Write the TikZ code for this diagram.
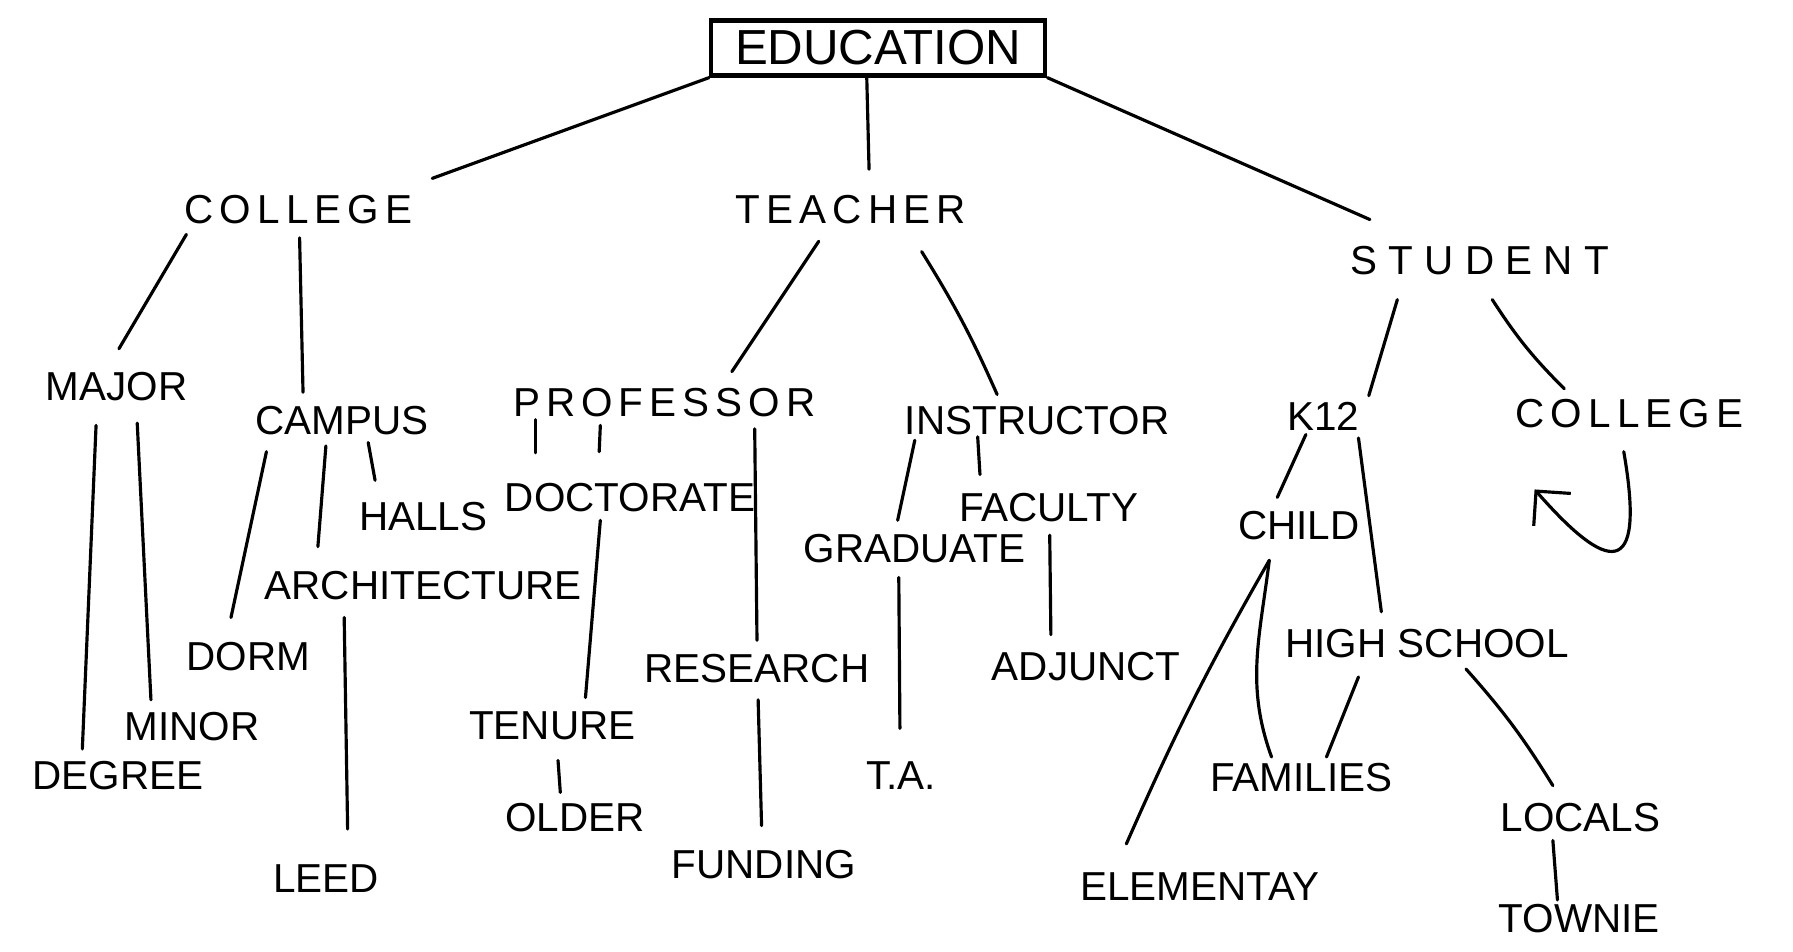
\documentclass[tikz,border=0pt]{standalone}
\usepackage{fontspec}
\setmainfont{Liberation Sans}
\newfontfamily\spacedfont[LetterSpace=15]{Liberation Sans}
\newfontfamily\widefont[LetterSpace=28]{Liberation Sans}
\usetikzlibrary{arrows.meta}

\tikzset{
  word/.style={inner sep=0, font=\fontsize{11.5}{12}\selectfont},
  spaced word/.style={word, font=\spacedfont\fontsize{11.5}{12}\selectfont},
  wide word/.style={word, font=\widefont\fontsize{11.5}{12}\selectfont},
  root/.style={draw, line width=1.2pt, inner sep=0,
               minimum width=3.34cm, minimum height=0.55cm,
               font=\fontsize{14}{16}\selectfont},
  link/.style={line width=0.9pt, line cap=round},
  back arrow/.style={link, -{Straight Barb[length=7pt,width=14pt]}},
}

\begin{document}
\begin{tikzpicture}[x=0.011435cm, y=-0.011435cm]
  % canvas in px of the scan, y grows downwards
  \useasboundingbox (0,0) rectangle (1568,832);

  % --- top ---
  \node[root] (edu) at (768,42) {EDUCATION};

  % --- level 1 ---
  \node[spaced word] (college) at (261,183) {COLLEGE};
  \node[spaced word] (teacher) at (744,183) {TEACHER};
  \node[wide word]   (student) at (1294,228) {STUDENT};

  % --- level 2 ---
  \node[word]        (major)    at (102,338)  {MAJOR};
  \node[word]        (campus)   at (299,368)  {CAMPUS};
  \node[spaced word] (prof)     at (581,352)  {PROFESSOR};
  \node[word]        (instr)    at (907,368)  {INSTRUCTOR};
  \node[word]        (k12)      at (1157,364) {K12};
  \node[spaced word] (college2) at (1425,362) {COLLEGE};

  % --- level 3 ---
  \node[word] (halls)    at (370,452)  {HALLS};
  \node[word] (doct)     at (551,435)  {DOCTORATE};
  \node[word] (faculty)  at (917,444)  {FACULTY};
  \node[word] (grad)     at (800,480)  {GRADUATE};
  \node[word] (child)    at (1136,460) {CHILD};
  \node[word] (arch)     at (370,512)  {ARCHITECTURE};
  \node[word] (dorm)     at (217,574)  {DORM};
  \node[word] (research) at (662,585)  {RESEARCH};
  \node[word] (adjunct)  at (950,583)  {ADJUNCT};
  \node[word] (high)     at (1248,563) {HIGH SCHOOL};

  % --- bottom rows ---
  \node[word] (minor)    at (168,635)  {MINOR};
  \node[word] (degree)   at (103,678)  {DEGREE};
  \node[word] (tenure)   at (483,635)  {TENURE};
  \node[word] (ta)       at (788,678)  {T.A.};
  \node[word] (families) at (1138,680) {FAMILIES};
  \node[word] (older)    at (503,715)  {OLDER};
  \node[word] (locals)   at (1382,715) {LOCALS};
  \node[word] (leed)     at (285,768)  {LEED};
  \node[word] (funding)  at (668,756)  {FUNDING};
  \node[word] (elem)     at (1049,775) {ELEMENTAY};
  \node[word] (townie)   at (1381,803) {TOWNIE};

  % --- links from the root ---
  \draw[link] (edu.south west) -- ([shift={(117,-27)}]college.center);
  \draw[link] ([shift={(-10,0)}]edu.south) -- ([shift={(16,-35)}]teacher.center);
  \draw[link] (edu.south east) -- ([shift={(-96,-36)}]student.center);

  % --- college branch ---
  \draw[link] ([shift={(-98,22)}]college.center) -- ([shift={(2,-33)}]major.center);
  \draw[link] ([shift={(1,25)}]college.center) -- ([shift={(-34,-25)}]campus.center);
  \draw[link] ([shift={(-18,34)}]major.center) -- ([shift={(-31,-23)}]degree.center);
  \draw[link] ([shift={(18,32)}]major.center) -- ([shift={(-36,-23)}]minor.center);
  \draw[link] ([shift={(-66,27)}]campus.center) -- ([shift={(-15,-34)}]dorm.center);
  \draw[link] ([shift={(-14,22)}]campus.center) -- ([shift={(-92,-34)}]arch.center);
  \draw[link] ([shift={(23,19)}]campus.center) -- ([shift={(-42,-32)}]halls.center);
  \draw[link] ([shift={(-69,28)}]arch.center) -- ([shift={(19,-43)}]leed.center);

  % --- teacher branch ---
  \draw[link] ([shift={(-28,28)}]teacher.center) -- ([shift={(59,-27)}]prof.center);
  \draw[link] ([shift={(62,37)}]teacher.center) to[bend left=4] ([shift={(-35,-23)}]instr.center);
  \draw[link] ([shift={(-113,15)}]prof.center) -- ([shift={(-83,-39)}]doct.center);
  \draw[link] ([shift={(-56,20)}]prof.center) -- ([shift={(-27,-40)}]doct.center);
  \draw[link] ([shift={(79,23)}]prof.center) -- ([shift={(0,-25)}]research.center);
  \draw[link] ([shift={(-26,20)}]doct.center) -- ([shift={(29,-25)}]tenure.center);
  \draw[link] ([shift={(5,30)}]tenure.center) -- ([shift={(-13,-22)}]older.center);
  \draw[link] ([shift={(1,27)}]research.center) -- ([shift={(-2,-34)}]funding.center);
  \draw[link] ([shift={(-107,17)}]instr.center) -- ([shift={(-15,-25)}]grad.center);
  \draw[link] ([shift={(-52,14)}]instr.center) -- ([shift={(-60,-29)}]faculty.center);
  \draw[link] ([shift={(-14,25)}]grad.center) -- ([shift={(-1,-41)}]ta.center);
  \draw[link] ([shift={(1,24)}]faculty.center) -- ([shift={(-31,-28)}]adjunct.center);

  % --- student branch ---
  \draw[link] ([shift={(-72,34)}]student.center) -- ([shift={(40,-18)}]k12.center);
  \draw[link] ([shift={(11,34)}]student.center) to[bend right=6] ([shift={(-57,-22)}]college2.center);
  \draw[link] ([shift={(-15,16)}]k12.center) -- ([shift={(-19,-25)}]child.center);
  \draw[link] ([shift={(31,19)}]k12.center) -- ([shift={(-40,-28)}]high.center);
  \draw[link] ([shift={(-26,30)}]child.center) to[bend right=3] ([shift={(-64,-37)}]elem.center);
  \draw[link] ([shift={(-26,30)}]child.center) to[out=-97, in=110] ([shift={(-26,-18)}]families.center);
  \draw[link] ([shift={(-60,29)}]high.center) -- ([shift={(22,-18)}]families.center);
  \draw[link] ([shift={(34,22)}]high.center) to[bend left=5] ([shift={(-24,-28)}]locals.center);
  \draw[link] ([shift={(-24,20)}]locals.center) -- ([shift={(-19,-16)}]townie.center);

  % loop back onto college
  \draw[back arrow] ([shift={(-5,33)}]college2.center)
    .. controls (1440,510) and (1405,500) .. ([shift={(-83,66)}]college2.center);
\end{tikzpicture}
\end{document}
